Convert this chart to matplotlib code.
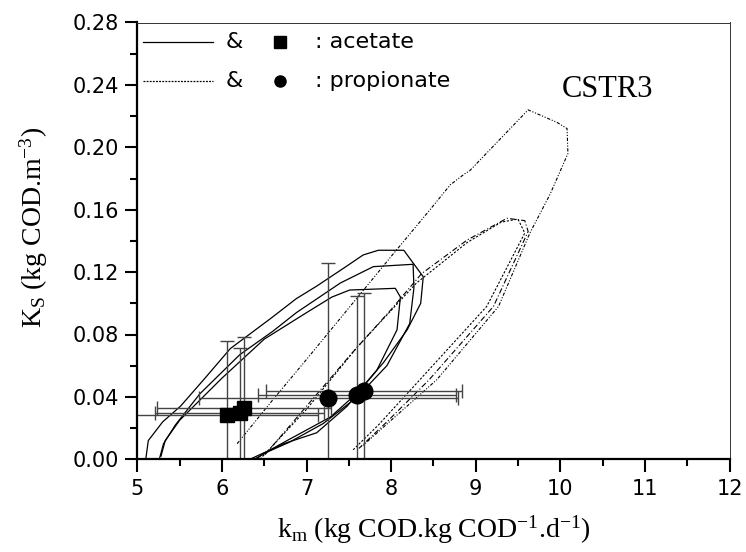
import matplotlib
matplotlib.use('Agg')
import matplotlib.pyplot as plt
from matplotlib.ticker import MultipleLocator, FormatStrFormatter
from matplotlib.lines import Line2D

plt.rcParams['mathtext.fontset'] = 'custom'
plt.rcParams['mathtext.rm'] = 'Liberation Serif'
plt.rcParams['mathtext.it'] = 'Liberation Serif:italic'

# best estimates with error bars
acet_km = [6.06, 6.21, 6.26]
acet_ks = [0.0284, 0.0295, 0.0327]
acet_km_err = [1.08, 1.00, 1.03]
acet_ks_err = [0.0476, 0.0416, 0.0455]

prop_km = [7.26, 7.60, 7.68]
prop_ks = [0.0391, 0.0412, 0.0438]
prop_km_err = [1.53, 1.17, 1.16]
prop_ks_err = [0.0865, 0.0635, 0.063]

# confidence regions, acetate (solid)
ac1_km = [5.10, 5.13, 5.30, 5.51, 5.80, 6.10, 6.57, 6.88, 7.12, 7.48, 7.67, 7.85, 8.15, 8.38, 8.35, 8.19, 7.91, 7.59, 7.28, 6.77, 6.57, 6.33]
ac1_ks = [0.000, 0.012, 0.024, 0.034, 0.052, 0.071, 0.090, 0.103, 0.111, 0.124, 0.131, 0.134, 0.134, 0.117, 0.100, 0.083, 0.062, 0.042, 0.027, 0.012, 0.006, 0.000]
ac2_km = [5.26, 5.31, 5.45, 5.74, 6.21, 6.60, 6.88, 7.40, 7.79, 8.26, 8.27, 8.22, 7.95, 7.60, 7.20, 6.80, 6.55, 6.38]
ac2_ks = [0.000, 0.010, 0.022, 0.042, 0.067, 0.082, 0.094, 0.113, 0.1235, 0.125, 0.110, 0.087, 0.060, 0.040, 0.023, 0.011, 0.005, 0.000]
ac3_km = [5.28, 5.33, 5.50, 6.00, 6.50, 7.00, 7.30, 7.51, 8.05, 8.11, 8.07, 7.83, 7.48, 7.12, 6.73, 6.50, 6.40]
ac3_ks = [0.002, 0.012, 0.025, 0.052, 0.077, 0.094, 0.104, 0.1085, 0.1096, 0.104, 0.083, 0.057, 0.034, 0.017, 0.010, 0.004, 0.000]

# confidence regions, propionate (dotted)
pr1_km = [6.18, 6.60, 7.00, 7.50, 8.00, 8.46, 8.70, 8.87, 8.93, 9.62, 9.96, 10.08, 10.09, 9.88, 9.64, 9.27, 8.54, 8.00, 7.65]
pr1_ks = [0.010, 0.038, 0.064, 0.097, 0.130, 0.160, 0.176, 0.183, 0.185, 0.224, 0.216, 0.212, 0.196, 0.170, 0.145, 0.098, 0.051, 0.025, 0.008]
pr2_km = [6.51, 7.00, 7.52, 8.00, 8.36, 8.90, 9.37, 9.58, 9.62, 9.21, 8.45, 7.95, 7.62]
pr2_ks = [0.003, 0.034, 0.067, 0.096, 0.119, 0.1406, 0.1545, 0.153, 0.146, 0.098, 0.051, 0.024, 0.007]
pr3_km = [6.45, 7.00, 7.60, 8.30, 8.90, 9.30, 9.50, 9.58, 9.13, 8.34, 7.85, 7.55]
pr3_ks = [0.000, 0.032, 0.072, 0.113, 0.139, 0.152, 0.154, 0.145, 0.098, 0.051, 0.022, 0.006]

fig = plt.figure(figsize=(7.46, 5.52), dpi=100)
ax = fig.add_axes([137.3/746, 92.7/552, 592.2/746, 436.8/552])

for km, ks in [(ac1_km, ac1_ks), (ac2_km, ac2_ks), (ac3_km, ac3_ks)]:
    ax.plot(km, ks, color='black', lw=0.9)
ax.plot(pr1_km, pr1_ks, color='black', lw=0.8, ls=(0, (3, 1.5, 1, 1.5, 1, 1.5)))
ax.plot(pr2_km, pr2_ks, color='black', lw=0.8, ls=(0, (5, 2, 1, 2)))
ax.plot(pr3_km, pr3_ks, color='black', lw=0.8, ls=(0, (2, 1.5)))

ax.errorbar(acet_km, acet_ks, xerr=acet_km_err, yerr=acet_ks_err, fmt='s', color='black',
            ms=10.5, ecolor='#444444', elinewidth=1.0, capsize=5, capthick=1.0)
ax.errorbar(prop_km, prop_ks, xerr=prop_km_err, yerr=prop_ks_err, fmt='o', color='black',
            ms=12, ecolor='#444444', elinewidth=1.0, capsize=5, capthick=1.0)

ax.set_xlim(5, 12)
ax.set_ylim(0, 0.28)
ax.xaxis.set_major_locator(MultipleLocator(1))
ax.xaxis.set_minor_locator(MultipleLocator(0.5))
ax.yaxis.set_major_locator(MultipleLocator(0.04))
ax.yaxis.set_minor_locator(MultipleLocator(0.02))
ax.yaxis.set_major_formatter(FormatStrFormatter('%.2f'))
ax.tick_params(which='both', top=False, right=False, direction='out', width=1.5, labelsize=15)
ax.tick_params(which='major', length=9)
ax.tick_params(which='minor', length=5)
ax.tick_params(axis='y', pad=4)
ax.tick_params(axis='x', pad=5)
for s in ['left', 'bottom']:
    ax.spines[s].set_linewidth(1.6)
for s in ['top', 'right']:
    ax.spines[s].set_linewidth(0.7)
    ax.spines[s].set_color('#333333')

ax.set_xlabel(r'k$_\mathrm{m}$ (kg COD.kg COD$^\mathrm{-1}$.d$^\mathrm{-1}$)',
              family='Liberation Serif', fontsize=20)
ax.set_ylabel(r'K$_\mathrm{S}$ (kg COD.m$^\mathrm{-3}$)', family='Liberation Serif', fontsize=20)
ax.xaxis.set_label_coords(0.5, -0.123)
ax.yaxis.set_label_coords(-0.147, 0.53)

ax.text(0.717, 0.83, 'CSTR3', transform=ax.transAxes, family='Liberation Serif', fontsize=22)

# legend drawn by hand: line & marker : label
rows = [(0.955, '-', 's', ': acetate'), (0.866, (0, (1.5, 1)), 'o', ': propionate')]
for y, ls, mk, lab in rows:
    ax.add_line(Line2D([0.01, 0.128], [y, y], transform=ax.transAxes, color='black', lw=0.9, ls=ls))
    ax.text(0.163, y, '&', transform=ax.transAxes, fontsize=16, ha='center', va='center')
    ax.plot([0.241], [y], marker=mk, color='black', ms=8, transform=ax.transAxes)
    ax.text(0.300, y, lab, transform=ax.transAxes, fontsize=16, ha='left', va='center')

fig.savefig('out.png', dpi=100)
